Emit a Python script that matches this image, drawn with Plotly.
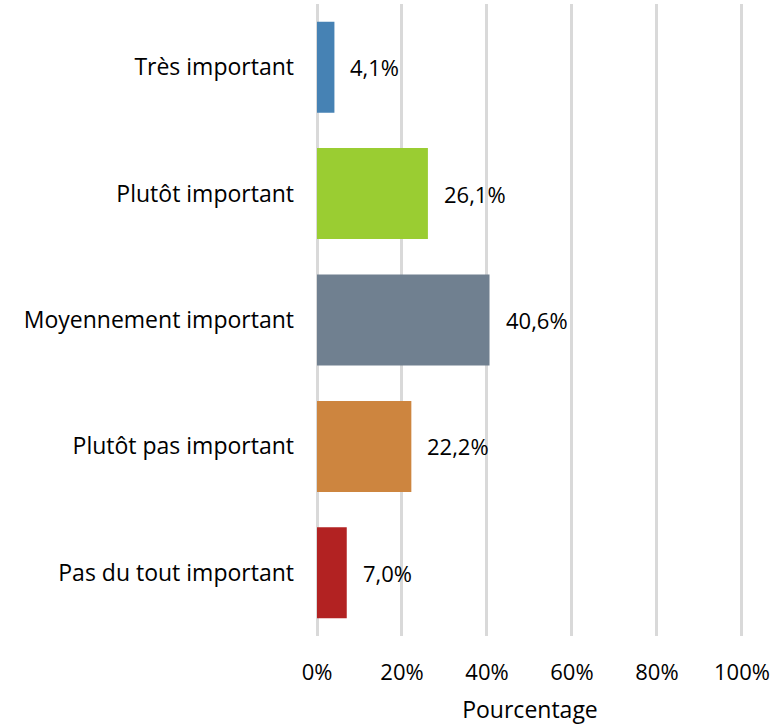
import plotly.graph_objects as go

#--------------------------------------------------
#   data
#--------------------------------------------------
categories = ['Très important', 'Plutôt important', 'Moyennement important',
              'Plutôt pas important', 'Pas du tout important']
values = [4.1, 26.1, 40.6, 22.2, 7.0]
labels = ['4,1%', '26,1%', '40,6%', '22,2%', '7,0%']
colors = ['#4682B4', '#9ACD32', '#708090', '#CD853F', '#B22222']
x_ticks = [0, 20, 40, 60, 80, 100]
x_ticklabels = ['0%', '20%', '40%', '60%', '80%', '100%']

font = 'Open Sans, sans-serif'

#--------------------------------------------------
#   plotting
#--------------------------------------------------
fig = go.Figure(go.Bar(
    x=values, y=categories, orientation='h',
    marker=dict(color=colors, line=dict(width=0)),
))

for v, c, t in zip(values, categories, labels):
    fig.add_annotation(x=v, y=c, text=t, showarrow=False, xanchor='left',
                       xshift=14, font=dict(size=22, color='#000000', family=font))

fig.update_layout(
    width=771, height=725,
    margin=dict(l=317, r=28, t=4, b=89),
    plot_bgcolor='white', paper_bgcolor='white',
    bargap=0.28, showlegend=False,
    font=dict(family=font, size=22, color='#000000'),
)
fig.update_xaxes(range=[0, 100.25], tickvals=x_ticks, ticktext=x_ticklabels,
                 showgrid=True, gridcolor='#D9D9D9', gridwidth=3,
                 zeroline=True, zerolinecolor='#D9D9D9', zerolinewidth=3,
                 showline=False, ticks='', ticklabelstandoff=21,
                 automargin=False,
                 title=dict(text='Pourcentage', standoff=16, font=dict(size=23)))
fig.update_yaxes(autorange='reversed', showgrid=False, showline=False,
                 ticks='', ticklabelstandoff=22, automargin=False,
                 tickfont=dict(size=23))

# page body has a default 8px margin, remove it so the chart sits at 0,0
fig.write_html('out.html', config={'displayModeBar': False},
               post_script="document.body.style.margin='0';")
